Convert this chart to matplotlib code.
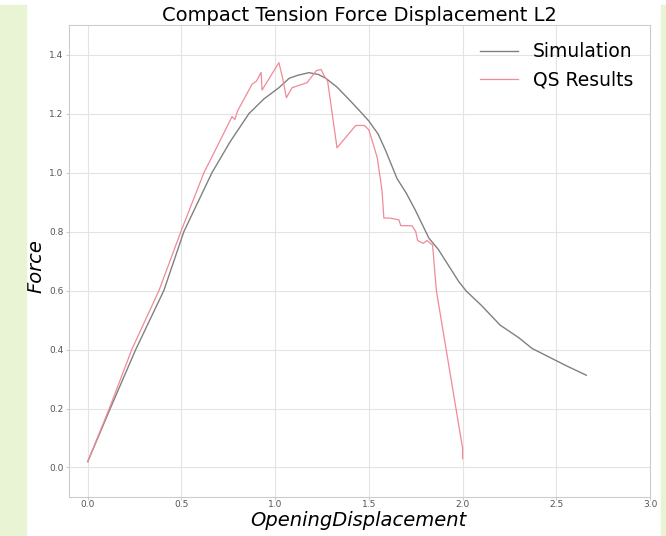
import matplotlib
matplotlib.use("Agg")
import matplotlib.pyplot as plt
from matplotlib.patches import Rectangle

# simulated force vs opening displacement
sim_disp = [0.0, 0.12, 0.256, 0.406, 0.513, 0.663, 0.76, 0.86, 0.94, 1.02, 1.075,
            1.12, 1.18, 1.23, 1.27, 1.33, 1.40, 1.45, 1.50, 1.55, 1.59, 1.65,
            1.70, 1.75, 1.82, 1.87, 1.91, 1.98, 2.02, 2.10, 2.20, 2.30, 2.37,
            2.46, 2.56, 2.66]
sim_force = [0.02, 0.2, 0.4, 0.6, 0.8, 1.0, 1.105, 1.2, 1.25, 1.288, 1.32,
             1.33, 1.339, 1.333, 1.32, 1.29, 1.244, 1.21, 1.175, 1.13, 1.074, 0.98,
             0.93, 0.87, 0.778, 0.74, 0.70, 0.63, 0.598, 0.55, 0.483, 0.44, 0.404,
             0.375, 0.343, 0.313]

# quasi-static results
qs_disp = [0.0, 0.115, 0.235, 0.38, 0.497, 0.62, 0.66, 0.77, 0.785, 0.80, 0.877,
           0.90, 0.925, 0.93, 1.02, 1.04, 1.06, 1.09, 1.17, 1.22, 1.245, 1.26,
           1.28, 1.33, 1.43, 1.476, 1.50, 1.545, 1.57, 1.58, 1.61, 1.66, 1.67,
           1.73, 1.75, 1.76, 1.79, 1.81, 1.84, 1.86, 2.0, 2.0]
qs_force = [0.02, 0.2, 0.4, 0.6, 0.8, 1.0, 1.05, 1.19, 1.18, 1.21, 1.30,
            1.31, 1.34, 1.28, 1.373, 1.32, 1.254, 1.288, 1.305, 1.346, 1.35, 1.33,
            1.31, 1.084, 1.16, 1.16, 1.145, 1.05, 0.94, 0.846, 0.846, 0.84, 0.82,
            0.82, 0.80, 0.77, 0.76, 0.77, 0.754, 0.60, 0.065, 0.03]

fig = plt.figure(figsize=(6.66, 5.36), dpi=100)
fig.patches.append(Rectangle((0, 0), 26/666, 531/536, transform=fig.transFigure,
                             color="#e9f4d5", zorder=0))
fig.patches.append(Rectangle((661/666, 0), 5/666, 531/536, transform=fig.transFigure,
                             color="#e9f4d5", zorder=0))
ax = fig.add_axes([0.1036, 0.0728, 0.8724, 0.8802])

ax.plot(sim_disp, sim_force, color="gray", linewidth=1.0, label="Simulation")
ax.plot(qs_disp, qs_force, color="#f08a96", linewidth=0.9, label="QS Results")

ax.set_xlim(-0.1, 3.0)
ax.set_ylim(-0.1, 1.5)
ax.set_xticks([0.0, 0.5, 1.0, 1.5, 2.0, 2.5, 3.0])
ax.set_yticks([0.0, 0.2, 0.4, 0.6, 0.8, 1.0, 1.2, 1.4])
ax.tick_params(labelsize=6.5, labelcolor="#555555", color="#cccccc", length=2, pad=2)
ax.tick_params(axis="x", pad=0.5)
ax.grid(True, color="#e3e3e3", linewidth=0.8)
for s in ax.spines.values():
    s.set_color("#cccccc")

ax.set_title("Compact Tension Force Displacement L2", fontsize=14, pad=2)
ax.set_xlabel("OpeningDisplacement", fontsize=14, style="italic")
ax.set_ylabel("Force", fontsize=14, style="italic")
ax.xaxis.set_label_coords(0.498, -0.03)
ax.yaxis.set_label_coords(-0.04, 0.49)
ax.legend(loc="upper right", fontsize=13.5, frameon=False, handlelength=2.0)

fig.savefig("out.png", dpi=100)
